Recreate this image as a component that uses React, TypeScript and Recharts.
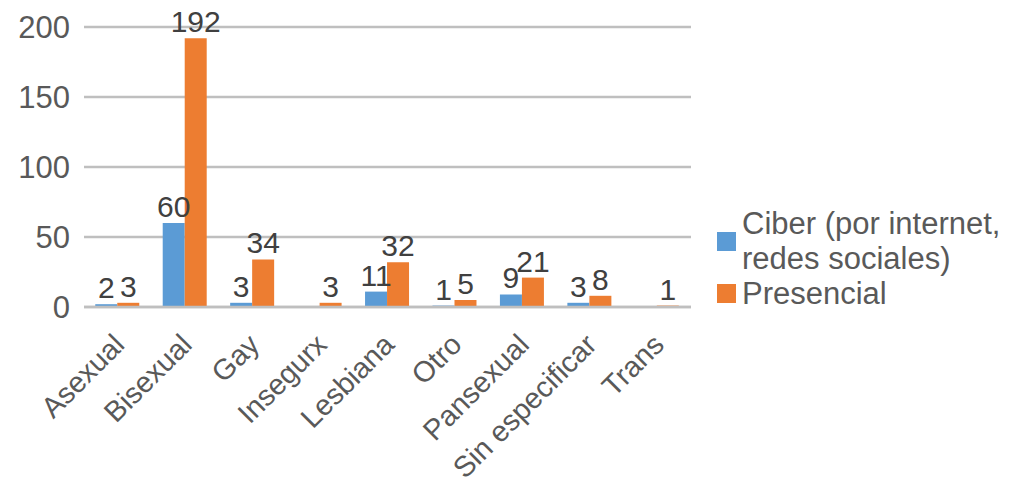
import React from "react"
import { BarChart, Bar, XAxis, YAxis, CartesianGrid, LabelList } from "recharts"

const categories = ["Asexual", "Bisexual", "Gay", "Insegurx", "Lesbiana", "Otro", "Pansexual", "Sin especificar", "Trans"]
const ciber = [2, 60, 3, null, 11, 1, 9, 3, null]
const presencial = [3, 192, 34, 3, 32, 5, 21, 8, 1]
const yTicks = [0, 50, 100, 150, 200]

const seriesNames = ["Ciber (por internet, redes sociales)", "Presencial"]
const colors = ["#5B9BD5", "#ED7D31"]

const data = categories.map((name, i) => ({
  name,
  ciber: ciber[i],
  presencial: presencial[i],
}))

const font = "'Liberation Sans', Arial, sans-serif"

// Y axis tick, right aligned
const YTick = ({ y, payload }: any) => (
  <text x={70} y={y} dy={11} textAnchor="end" fontSize={31} fill="#595959" fontFamily={font}>
    {payload.value}
  </text>
)

// X axis tick rotated 45 deg
const XTick = ({ x, y, payload }: any) => (
  <g transform={`translate(${x - 5},${y + 18})`}>
    <text x={0} y={0} dy={19} textAnchor="end" transform="rotate(-45)" fontSize={29} fill="#595959" fontFamily={font}>
      {payload.value}
    </text>
  </g>
)

const LegendBox = () => (
  <div
    style={{
      position: "absolute",
      left: 717,
      top: 206,
      fontFamily: font,
      fontSize: 31,
      color: "#595959",
      lineHeight: "35px",
      whiteSpace: "nowrap",
    }}
  >
    <div style={{ display: "flex", alignItems: "center" }}>
      <span style={{ width: 19, height: 19, background: colors[0], marginRight: 6, flexShrink: 0 }} />
      <span>
        {"Ciber (por internet,"}
        <br />
        {"redes sociales)"}
      </span>
    </div>
    <div style={{ display: "flex", alignItems: "center" }}>
      <span style={{ width: 19, height: 19, background: colors[1], marginRight: 6, flexShrink: 0 }} />
      <span>{seriesNames[1]}</span>
    </div>
  </div>
)

export default function App() {
  return (
    <div style={{ position: "relative", width: 1012, height: 491, background: "#fff" }}>
      <style>{"body{margin:0}"}</style>
      <BarChart
        width={1012}
        height={491}
        data={data}
        margin={{ top: 27, right: 321, left: 9, bottom: 14 }}
        barCategoryGap="16.7%"
        barGap={0}
      >
        <CartesianGrid vertical={false} stroke="#bfbfbf" strokeWidth={2.5} />
        <XAxis
          dataKey="name"
          interval={0}
          height={170}
          tick={<XTick />}
          tickLine={false}
          axisLine={{ stroke: "#bfbfbf", strokeWidth: 2.5 }}
        />
        <YAxis
          width={75}
          domain={[0, 200]}
          ticks={yTicks}
          tick={<YTick />}
          tickLine={false}
          axisLine={false}
        />
        <Bar dataKey="ciber" name={seriesNames[0]} fill={colors[0]} isAnimationActive={false}>
          <LabelList dataKey="ciber" position="top" offset={6} fontSize={30} fill="#404040" fontFamily={font} />
        </Bar>
        <Bar dataKey="presencial" name={seriesNames[1]} fill={colors[1]} isAnimationActive={false}>
          <LabelList dataKey="presencial" position="top" offset={6} fontSize={30} fill="#404040" fontFamily={font} />
        </Bar>
      </BarChart>
      <LegendBox />
    </div>
  )
}
